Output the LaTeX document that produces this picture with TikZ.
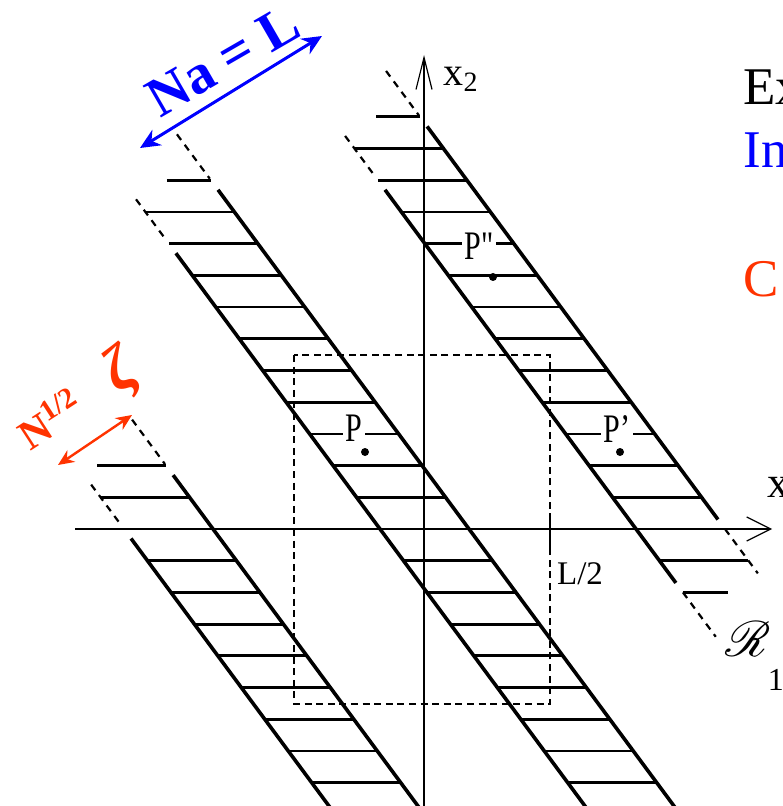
\documentclass[tikz,border=0pt]{standalone}
\usepackage{fix-cm}
\usepackage{fontspec}
\setmainfont{Liberation Serif}
\newfontfamily\straightquote{Liberation Serif}[Ligatures=TeXOff]
\usepackage{amsmath,amssymb}
\usepackage{mathrsfs}
\usetikzlibrary{arrows.meta}

\definecolor{slideblue}{RGB}{0,0,255}
\definecolor{slidered}{RGB}{255,51,0}

\tikzset{
  stripedge/.style={line width=1.8pt},
  hatchline/.style={line width=1.4pt},
  stripcont/.style={line width=1.1pt, dash pattern=on 3.5pt off 3pt},
  cellbox/.style={line width=1.2pt, dash pattern=on 3.5pt off 2.3pt},
  axisline/.style={line width=0.6pt},
  ptlabel/.style={fill=white, inner xsep=1.5pt, inner ysep=0pt,
    font=\fontsize{15}{15}\selectfont, yscale=1.35, transform shape},
  slidetext/.style={anchor=base west, inner sep=0pt,
    font=\fontsize{26.5}{26.5}\selectfont},
}

\begin{document}
\begin{tikzpicture}[x=0.5pt, y=-0.5pt]

% ------------------------------------------------------------
% Positions
% ------------------------------------------------------------

\def\xaxis{424}      % x_2 axis
\def\yaxis{529}      % x axis
\def\xleft{213}      % right edge of each strip on the x axis
\def\xmid{469}
\def\xright{725}
\def\wstrip{89}      % strip width
\def\hstep{15.85pt}  % hatch spacing
\def\slant{-0.74}

\useasboundingbox (0,0) rectangle (782,806);
\clip (0,0) rectangle (782,806);

% ------------------------------------------------------------
% Axes
% ------------------------------------------------------------

\coordinate (x1from) at (75,\yaxis);
\coordinate (x1to)   at (772,\yaxis);
\coordinate (x2from) at (\xaxis,812);
\coordinate (x2to)   at (\xaxis,55);

\draw[axisline, -{Straight Barb[length=12pt,width=12pt]}]
(x1from) -- (x1to);

\draw[axisline, -{Straight Barb[length=16pt,width=8pt]}]
(x2from) -- (x2to);

% ------------------------------------------------------------
% Cell [-L/2, L/2]
% ------------------------------------------------------------

\draw[cellbox] (294,355) rectangle (550,704);

\coordinate (tickA) at (550,519);
\coordinate (tickB) at (550,555);
\draw[line width=0.8pt] (tickA) -- (tickB);

% ------------------------------------------------------------
% Left strip
% ------------------------------------------------------------

\begin{scope}[shift={(\xleft,\yaxis)}, y=-\hstep, xslant=\slant]
  \draw[stripcont] (0,-3.45) -- (0,-2.05);
  \draw[stripcont] (-\wstrip,-1.4) -- (-\wstrip,-0.1);
  \draw[stripedge] (0,-1.7) -- (0,9);
  \draw[stripedge] (-\wstrip,0.3) -- (-\wstrip,9);
  \draw[hatchline] (-69,-2) -- (0,-2);
  \foreach \k in {-1,...,8}
    \draw[hatchline] (-\wstrip,\k) -- (0,\k);
\end{scope}

% ------------------------------------------------------------
% Middle strip
% ------------------------------------------------------------

\begin{scope}[shift={(\xmid,\yaxis)}, y=-\hstep, xslant=\slant]
  \draw[stripcont] (0,-12.45) -- (0,-11.05);
  \draw[stripcont] (-\wstrip,-10.4) -- (-\wstrip,-9.1);
  \draw[stripedge] (0,-10.7) -- (0,9);
  \draw[stripedge] (-\wstrip,-8.7) -- (-\wstrip,9);
  \draw[hatchline] (-44,-11) -- (0,-11);
  \foreach \k in {-10,...,8}
    \draw[hatchline] (-\wstrip,\k) -- (0,\k);
\end{scope}

% ------------------------------------------------------------
% Right strip
% ------------------------------------------------------------

\begin{scope}[shift={(\xright,\yaxis)}, y=-\hstep, xslant=\slant]
  \draw[stripcont] (0,-14.45) -- (0,-13.05);
  \draw[stripcont] (0,0) -- (0,1.4);
  \draw[stripcont] (-\wstrip,-12.4) -- (-\wstrip,-11.1);
  \draw[stripcont] (-\wstrip,2) -- (-\wstrip,3.4);
  \draw[stripedge] (0,-12.7) -- (0,-0.3);
  \draw[stripedge] (-\wstrip,-10.7) -- (-\wstrip,1.7);
  \draw[hatchline] (-44,-13) -- (0,-13);
  \foreach \k in {-12,...,1}
    \draw[hatchline] (-\wstrip,\k) -- (0,\k);
  \draw[hatchline] (-\wstrip,2) -- (-44,2);
\end{scope}

% ------------------------------------------------------------
% Points
% ------------------------------------------------------------

\coordinate (P)   at (365,452);
\coordinate (Pp)  at (620,452);
\coordinate (Ppp) at (493,277);

\fill (P)   circle (2pt);
\fill (Pp)  circle (2pt);
\fill (Ppp) circle (2pt);

\node[ptlabel] (Plbl)   at (354,428) {P};
\node[ptlabel] (Pplbl)  at (617,429) {P'};
\node[ptlabel] (Ppplbl) at (479,246) {P{\straightquote"}};

% ------------------------------------------------------------
% Axis labels
% ------------------------------------------------------------

\node[inner sep=0pt, font=\fontsize{20}{20}\selectfont] (x2lbl) at (461,79)
{x\textsubscript{2}};

\node[anchor=base west, inner sep=0pt, font=\fontsize{22}{22}\selectfont] (x1lbl) at (767,497)
{x};

\node[inner sep=0pt, font=\fontsize{16.5}{16.5}\selectfont] (halflbl) at (580,574)
{L/2};

\node[anchor=base west, inner sep=0pt, font=\fontsize{27.5}{27.5}\selectfont] (Rlbl) at (725,656)
{$\mathscr{R}$\kern-1.5pt\raisebox{-17pt}{\fontsize{16}{16}\selectfont 1}};

% ------------------------------------------------------------
% Widths
% ------------------------------------------------------------

\coordinate (naA) at (140,148);
\coordinate (naB) at (322,36);
\draw[slideblue, line width=1.5pt,
  {Stealth[length=10pt,width=9pt]}-{Stealth[length=10pt,width=9pt]}]
(naA) -- (naB);

\node[rotate=30, inner sep=0pt, text=slideblue,
  font=\bfseries\fontsize{28}{28}\selectfont] (NaL) at (223,61)
{Na = L};

\coordinate (zetaA) at (58,465);
\coordinate (zetaB) at (132,415);
\draw[slidered, line width=1.2pt,
  {Stealth[length=8pt,width=7pt]}-{Stealth[length=8pt,width=7pt]}]
(zetaA) -- (zetaB);

\node[rotate=33, anchor=base west, inner sep=0pt, text=slidered,
  font=\bfseries\fontsize{21}{21}\selectfont] (Nhalf) at (30,452)
{N\textsuperscript{1/2}\hspace{0.85em}{\fontsize{32}{32}\selectfont\itshape ζ}};

% ------------------------------------------------------------
% Slide text (cut at the border)
% ------------------------------------------------------------

\node[slidetext] (slideEx) at (743,105) {Ex};
\node[slidetext, text=slideblue] (slideIn) at (743,168) {In};
\node[slidetext, text=slidered] (slideC) at (743,297) {C};

\end{tikzpicture}
\end{document}
